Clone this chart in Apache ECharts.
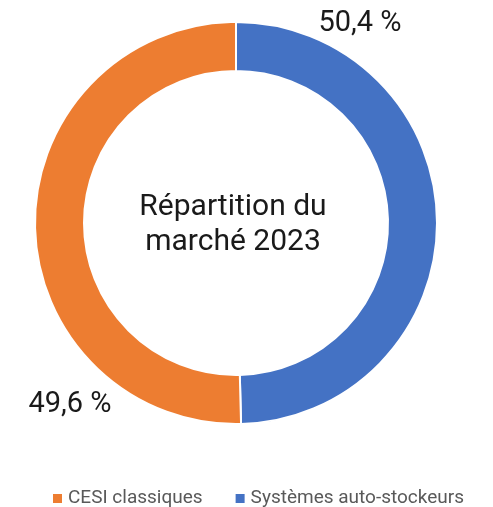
<!DOCTYPE html>
<html>
<head>
<meta charset="utf-8">
<script src="https://cdn.jsdelivr.net/npm/echarts@6/dist/echarts.min.js"></script>
<style>
  html, body { margin: 0; padding: 0; background: #fff; }
  #chart { width: 493px; height: 507px; }
</style>
</head>
<body>
<div id="chart"></div>
<script>
const categories = ['Systèmes auto-stockeurs', 'CESI classiques'];
const values = [49.6, 50.4];
const colors = ['#4472C4', '#ED7D31'];
const legendOrder = ['CESI classiques', 'Systèmes auto-stockeurs'];
const centerTitle = 'Répartition du\nmarché 2023';

const font = 'Roboto';
const chart = echarts.init(document.getElementById('chart'));

// étiquettes déplacées à la main, comme dans l'original
const labelSpots = [
  { x: 70, y: 405 },
  { x: 360, y: 24 },
];

const option = {
  animation: false,
  title: {
    text: centerTitle,
    left: 233,
    top: 190,
    padding: 0,
    textAlign: 'center',
    textStyle: {
      fontFamily: font,
      fontSize: 30,
      fontWeight: 'normal',
      color: '#1a1a1a',
      lineHeight: 35,
    },
  },
  legend: {
    data: legendOrder,
    left: 46,
    top: 484,
    icon: 'rect',
    itemWidth: 11,
    itemHeight: 11,
    itemGap: 31,
    textStyle: {
      fontFamily: font,
      fontSize: 19,
      color: '#595959',
    },
  },
  series: [
    {
      type: 'pie',
      center: [236, 223],
      radius: [152, 201],
      startAngle: 90,
      clockwise: true,
      data: categories.map((name, i) => ({
        name: name,
        value: values[i],
        itemStyle: { color: colors[i] },
      })),
      itemStyle: {
        borderColor: '#fff',
        borderWidth: 2,
      },
      label: {
        show: true,
        position: 'inside',
        fontFamily: font,
        fontSize: 29,
        color: '#1a1a1a',
        formatter: (p) => p.value.toFixed(1).replace('.', ',') + ' %',
      },
      labelLine: { show: false },
      labelLayout: (p) => ({
        x: labelSpots[p.dataIndex].x,
        y: labelSpots[p.dataIndex].y,
        align: 'center',
        verticalAlign: 'middle',
      }),
      emphasis: { disabled: true },
    },
  ],
};

chart.setOption(option);
</script>
</body>
</html>
